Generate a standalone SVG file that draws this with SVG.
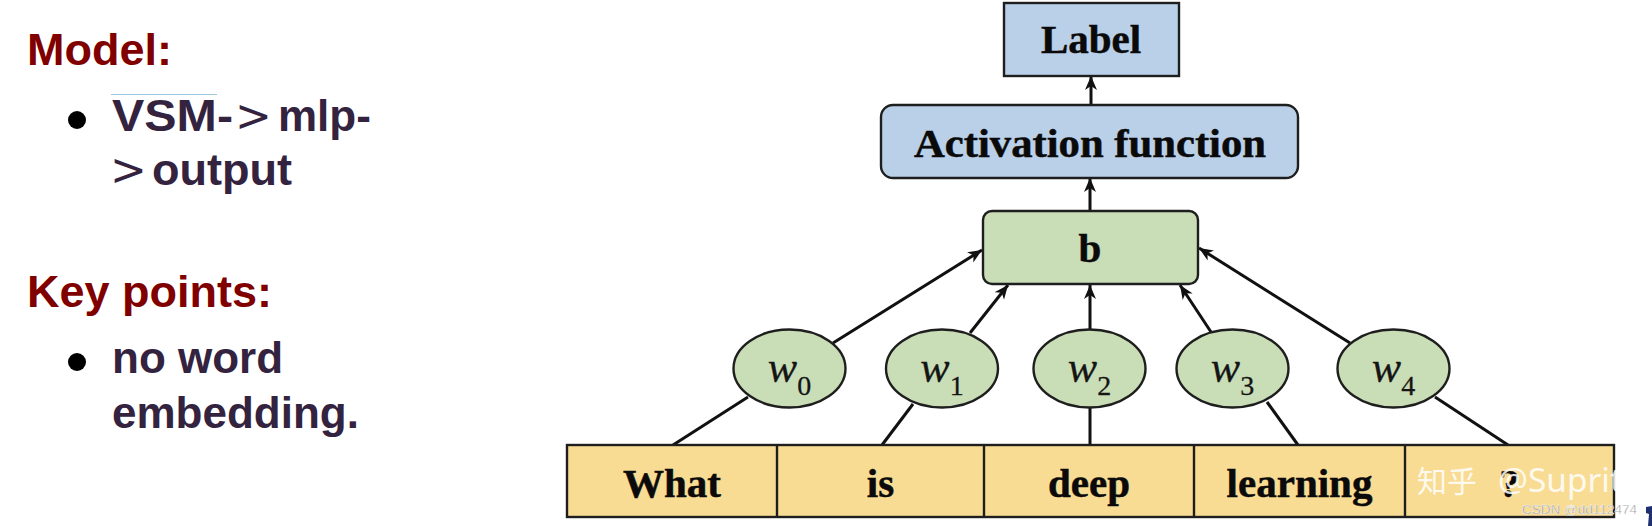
<svg xmlns="http://www.w3.org/2000/svg" width="1652" height="526" viewBox="0 0 1652 526">
<defs>
<style>
.head{font-family:"Liberation Sans",Arial,sans-serif;font-weight:bold;font-size:45px;fill:#800000}
.body{font-family:"Liberation Sans",Arial,sans-serif;font-weight:bold;font-size:44px;fill:#34233f}
.gt{font-family:"DejaVu Sans",sans-serif;font-weight:normal;font-size:44px;fill:#34233f}
.box{stroke:#1e1e1e;stroke-width:2.4}
.blue{fill:#bad0e8}
.green{fill:#c9ddb7}
.yellow{fill:#f9dc93}
.lbl{font-family:"Liberation Serif","Times New Roman",serif;font-weight:bold;font-size:41px;fill:#0a0a0a;stroke:#0a0a0a;stroke-width:0.5;text-anchor:middle}
.wt{font-family:"Liberation Serif","Times New Roman",serif;font-style:italic;font-size:44px;fill:#151515;stroke:#151515;stroke-width:0.3;text-anchor:middle}
.sub{font-style:normal;font-size:28px}
.conn line{stroke:#111;stroke-width:3}
</style>
<marker id="arr" markerUnits="userSpaceOnUse" markerWidth="16" markerHeight="14" refX="14" refY="6" orient="auto">
<path d="M0,0 L14,6 L0,12 L4,6 z" fill="#111"/>
</marker>
</defs>
<rect width="1652" height="526" fill="#ffffff"/>

<g id="left-text">
<text class="head" x="27" y="65">Model:</text>
<line x1="111" y1="94.5" x2="217" y2="94.5" stroke="#9cc6e4" stroke-width="1"/>
<circle cx="77" cy="120" r="9" fill="#000"/>
<text class="body" x="112" y="131" textLength="121" lengthAdjust="spacingAndGlyphs">VSM-</text>
<text class="gt" x="235" y="131">&gt;</text>
<text class="body" x="278" y="131">mlp-</text>
<text class="gt" x="110" y="185">&gt;</text>
<text class="body" x="152" y="185" textLength="140" lengthAdjust="spacingAndGlyphs">output</text>
<text class="head" x="27" y="307">Key points:</text>
<circle cx="77" cy="362" r="9" fill="#000"/>
<text class="body" x="112" y="373">no word</text>
<text class="body" x="112" y="428">embedding.</text>
</g>

<g class="conn" id="connectors">
<line x1="1091" y1="105" x2="1091" y2="76" marker-end="url(#arr)"/>
<line x1="1090" y1="211" x2="1090" y2="178" marker-end="url(#arr)"/>
<line x1="833" y1="343" x2="982" y2="250" marker-end="url(#arr)"/>
<line x1="970" y1="333" x2="1008" y2="285" marker-end="url(#arr)"/>
<line x1="1090" y1="329" x2="1090" y2="285" marker-end="url(#arr)"/>
<line x1="1211" y1="332" x2="1180" y2="285" marker-end="url(#arr)"/>
<line x1="1350" y1="343" x2="1199" y2="248" marker-end="url(#arr)"/>
<line x1="748" y1="397" x2="673" y2="445"/>
<line x1="913" y1="404" x2="882" y2="445"/>
<line x1="1090" y1="408" x2="1090" y2="445"/>
<line x1="1267" y1="402" x2="1298" y2="445"/>
<line x1="1435" y1="397" x2="1508" y2="445"/>
</g>

<g id="node-label">
<rect class="box blue" x="1004" y="3" width="175" height="73"/>
<text class="lbl" x="1091" y="53">Label</text>
</g>
<g id="node-activation">
<rect class="box blue" x="881" y="105" width="417" height="73" rx="12"/>
<text class="lbl" x="1090" y="157" textLength="352" lengthAdjust="spacingAndGlyphs">Activation function</text>
</g>
<g id="node-b">
<rect class="box green" x="983" y="211" width="215" height="73" rx="9"/>
<text class="lbl" x="1090" y="262">b</text>
</g>

<g id="node-w0">
<ellipse class="box green" cx="789.5" cy="368.5" rx="56" ry="39"/>
<text class="wt" x="789.5" y="382">w<tspan class="sub" dy="13">0</tspan></text>
</g>
<g id="node-w1">
<ellipse class="box green" cx="942" cy="368.5" rx="56" ry="39"/>
<text class="wt" x="942" y="382">w<tspan class="sub" dy="13">1</tspan></text>
</g>
<g id="node-w2">
<ellipse class="box green" cx="1089.5" cy="368.5" rx="56" ry="39"/>
<text class="wt" x="1089.5" y="382">w<tspan class="sub" dy="13">2</tspan></text>
</g>
<g id="node-w3">
<ellipse class="box green" cx="1232.5" cy="368.5" rx="56" ry="39"/>
<text class="wt" x="1232.5" y="382">w<tspan class="sub" dy="13">3</tspan></text>
</g>
<g id="node-w4">
<ellipse class="box green" cx="1393.5" cy="368.5" rx="56" ry="39"/>
<text class="wt" x="1393.5" y="382">w<tspan class="sub" dy="13">4</tspan></text>
</g>

<g id="node-words">
<rect class="box yellow" x="567" y="445" width="1047" height="72"/>
<line x1="777" y1="445" x2="777" y2="517" stroke="#1e1e1e" stroke-width="2.4"/>
<line x1="984" y1="445" x2="984" y2="517" stroke="#1e1e1e" stroke-width="2.4"/>
<line x1="1194" y1="445" x2="1194" y2="517" stroke="#1e1e1e" stroke-width="2.4"/>
<line x1="1405" y1="445" x2="1405" y2="517" stroke="#1e1e1e" stroke-width="2.4"/>
<text class="lbl" x="672" y="497">What</text>
<text class="lbl" x="880.5" y="497">is</text>
<text class="lbl" x="1089" y="497">deep</text>
<text class="lbl" x="1299.5" y="497">learning</text>
<text class="lbl" x="1509.5" y="497">?</text>
</g>

<g id="watermark">
<text x="1417" y="492" font-family="'Noto Sans CJK SC',sans-serif" font-size="30" fill="#ffffff" fill-opacity="0.85">知乎</text>
<text x="1498" y="492" font-family="'Noto Sans',sans-serif" font-size="32" fill="#ffffff" fill-opacity="0.85" textLength="124" lengthAdjust="spacingAndGlyphs">@Suprit</text>
<text x="1522" y="514" font-family="'Liberation Sans',Arial,sans-serif" font-size="13" fill="#8a8a8a" stroke="#ffffff" stroke-width="0.4" textLength="115" lengthAdjust="spacingAndGlyphs">CSDN @dd112474</text>
<path d="M1646,507 L1652,506 L1652,526 L1648,526 L1649,514 L1646,513 z" fill="#1f2f6f"/>
</g>
</svg>
